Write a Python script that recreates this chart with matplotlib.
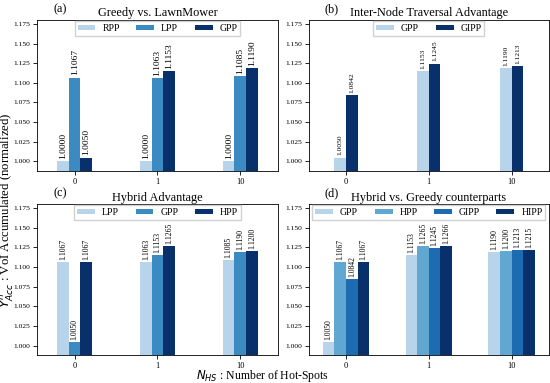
import matplotlib
matplotlib.use("Agg")
import matplotlib.pyplot as plt
import numpy as np

plt.rcParams["font.family"] = ["Liberation Serif", "DejaVu Serif"]
plt.rcParams["mathtext.fontset"] = "dejavusans"

groups = ["0", "1", "10"]

# (a) Greedy vs. LawnMower
a_names = ["RPP", "LPP", "GPP"]
a_vals = [[1.0000, 1.0000, 1.0000],
          [1.1067, 1.1063, 1.1085],
          [1.0050, 1.1153, 1.1190]]

# (b) Inter-Node Traversal Advantage
b_names = ["GPP", "GIPP"]
b_vals = [[1.0050, 1.1153, 1.1190],
          [1.0842, 1.1245, 1.1213]]

# (c) Hybrid Advantage
c_names = ["LPP", "GPP", "HPP"]
c_vals = [[1.1067, 1.1063, 1.1085],
          [1.0050, 1.1153, 1.1190],
          [1.1067, 1.1265, 1.1200]]

# (d) Hybrid vs. Greedy counterparts
d_names = ["GPP", "HPP", "GIPP", "HIPP"]
d_vals = [[1.0050, 1.1153, 1.1190],
          [1.1067, 1.1265, 1.1200],
          [1.0842, 1.1245, 1.1213],
          [1.1067, 1.1266, 1.1215]]

panels = [
    ("(a)", "Greedy vs. LawnMower", a_names, a_vals, 6.8),
    ("(b)", "Inter-Node Traversal Advantage", b_names, b_vals, 5.4),
    ("(c)", "Hybrid Advantage", c_names, c_vals, 5.6),
    ("(d)", "Hybrid vs. Greedy counterparts", d_names, d_vals, 5.5),
]


def draw_panel(ax, tag, title, names, vals, label_size, width=0.14):
    n = len(names)
    colors = plt.cm.Blues(np.linspace(0.3, 1.0, n))
    x = np.arange(len(groups))
    for i, (name, v) in enumerate(zip(names, vals)):
        pos = x + (i - (n - 1) / 2) * width
        bars = ax.bar(pos, v, width=width, color=colors[i], label=name)
        for b, val in zip(bars, v):
            ax.annotate(f"{val:.4f}", (b.get_x() + b.get_width() / 2, val),
                        xytext=(0, 1.5), textcoords="offset points",
                        ha="center", va="bottom", rotation=90,
                        fontsize=label_size)
    ax.set_xticks(x)
    ax.set_xticklabels(groups, fontsize=6)
    yt = np.arange(1.0, 1.176, 0.025)
    ax.set_ylim(0.988, 1.18)
    ax.set_yticks(yt)
    ax.set_yticklabels([f"{t:.3f}" for t in yt], fontsize=5.4)
    ax.tick_params(length=3, width=0.6, pad=2)
    ax.set_xlim(-0.45, 2.45)
    for s in ax.spines.values():
        s.set_linewidth(0.6)
    ax.set_title(title, fontsize=8.8, pad=2.5)
    ax.text(0.065, 1.05, tag, transform=ax.transAxes, fontsize=8.8)
    ax.legend(loc="upper center", ncol=n, fontsize=7, handlelength=1.85,
              handleheight=0.5, handletextpad=0.7, columnspacing=1.7,
              borderaxespad=0.1, borderpad=0.3, fancybox=False,
              framealpha=0.9)


fig, axes = plt.subplots(2, 2, figsize=(5.5, 3.83), dpi=100)
fig.subplots_adjust(left=0.068, right=0.998, top=0.948, bottom=0.073,
                    wspace=0.13, hspace=0.22)
for ax, (tag, title, names, vals, ls) in zip(axes.flat, panels):
    draw_panel(ax, tag, title, names, vals, ls)

fig.text(0.014, 0.452, r"$Y^{n}_{Acc}$ : VoI Accumulated (normalized)",
         rotation=90, va="center", ha="center", fontsize=9.2)
fig.text(0.477, 0.018, r"$N_{HS}$ : Number of Hot-Spots",
         va="center", ha="center", fontsize=8.5)

fig.savefig("out.png", dpi=100)
